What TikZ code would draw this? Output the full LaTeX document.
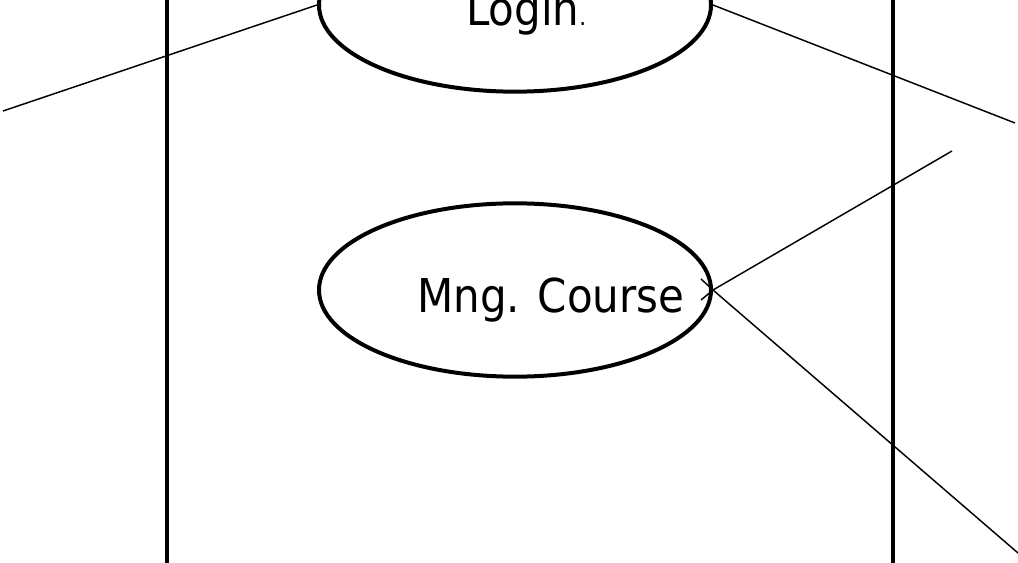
\documentclass[tikz,border=0pt]{standalone}
\usepackage{fontspec}
\setmainfont{DejaVu Sans Condensed}
\usetikzlibrary{calc,shapes.geometric,positioning}

\tikzset{
  usecase/.style={draw,ellipse,line width=3pt,minimum width=294pt,minimum height=130pt,inner sep=0pt},
  caselabel/.style={inner sep=0pt,font=\fontsize{35}{42}\selectfont},
  link/.style={line width=1.1pt},
  bound/.style={line width=3.2pt}
}

\begin{document}
\begin{tikzpicture}[x=0.75pt,y=-0.75pt]
  \useasboundingbox (0,0) rectangle (1018,563);
  \clip (0,0) rectangle (1018,563);
  % system boundary
  \draw[bound] (167,-10) -- (167,573);
  \draw[bound] (893,-10) -- (893,573);
  % use cases
  \node[usecase] (login) at (515,5) {};
  \node[usecase] (mng) at (515,290) {};
  \node[caselabel,anchor=base west] (logintext) at (466,26) {Login{\fontsize{18}{20}\selectfont.}};
  \node[caselabel,anchor=base west] (mngtext) at (417,312) {Mng. Course};
  % actors off the page
  \coordinate (actorA) at (3,111);
  \coordinate (actorB) at (1015,123);
  \coordinate (actorC) at (952,151);
  \coordinate (actorD) at (1018,553);
  \draw[link] (login.west) -- (actorA);
  \draw[link] (login.east) -- (actorB);
  \draw[link] (mng.east) -- (actorC);
  \draw[link] (mng.east) -- (actorD);
  \draw[link] ($(mng.east)+(-12,-11)$) -- (mng.east) -- ($(mng.east)+(-12,10)$);
\end{tikzpicture}
\end{document}
